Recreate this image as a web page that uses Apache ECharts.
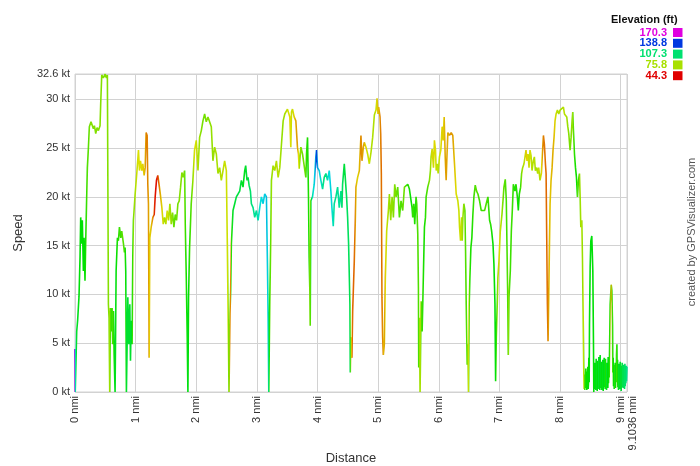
<!DOCTYPE html>
<html><head><meta charset="utf-8">
<script src="https://cdn.jsdelivr.net/npm/echarts@6/dist/echarts.min.js"></script>
<style>html,body{margin:0;padding:0;background:#fff}#c{width:700px;height:466px}</style>
</head><body><div id="c"></div>
<script>
// ---- Data: distance (nmi), speed (kt), elevation (ft) per track point, split in legs ----
const distLeg1 = [
0.000,0.002,0.004,0.022,0.028,0.044,0.066,0.083,0.094,0.110,
0.121,0.138,0.149,0.165,0.176,0.193,0.204,0.220,0.237,0.264,
0.287,0.303,0.320,0.342,0.364,0.386,0.413,0.424,0.441,0.468,
0.496,0.518,0.534,0.551,0.562,0.573,0.584,0.595,0.612,0.622,
0.634,0.645,0.661,0.678,0.700,0.716,0.733,0.755,0.771,0.799,
0.815,0.826,0.837,0.848,0.871,0.887,0.904,0.915,0.926,0.942,
0.953,0.964,0.992,1.019,1.047,1.063,1.080,1.102,1.118,1.140,
1.157,1.173,1.190,1.201,1.212,1.223,1.234,1.256,1.284,1.306,
1.322,1.344,1.366,1.388,1.411,1.433,1.455,1.477,1.499,1.521,
1.543,1.565,1.587,1.609,1.631,1.653,1.675,1.697,1.719,1.741,
1.763,1.785];
const speedLeg1 = [
4.4,3.0,0,0,6.2,7.4,9.8,13.8,17.9,15.2,
17.6,12.4,15.8,11.4,15.2,20.0,23.0,24.9,27.2,27.7,
27.8,27.0,27.3,26.5,27.1,26.8,27.3,29.6,32.5,32.2,
32.6,32.2,32.5,9.0,7.6,0,8.6,6.2,8.6,4.9,
8.3,3.8,0,12.4,15.8,15.5,16.9,15.8,16.5,15.2,
14.3,14.8,12.4,0,9.7,4.9,9.0,3.2,7.3,4.9,
13.8,17.6,20.3,22.4,24.8,22.7,23.7,22.7,23.4,22.2,
23.0,26.6,26.3,21.3,19.3,3.5,15.8,16.9,17.9,18.2,
20.0,21.7,22.2,21.2,20.1,18.9,17.2,17.9,17.2,18.6,
17.6,19.3,17.2,18.4,16.9,18.2,17.6,19.3,19.6,21.0,
22.5,22.0];
const elevLeg1 = [
160,125,118,100,100,98,96,95,95,95,
95,95,95,95,92,88,85,85,82,80,
80,80,80,80,80,80,80,80,80,80,
80,80,80,80,80,76,85,88,90,85,
90,95,100,95,92,90,88,88,85,85,
88,90,95,100,100,100,100,100,100,95,
85,80,76,72,70,70,70,68,68,66,
64,58,58,60,62,66,68,66,60,50,
46,46,52,58,64,68,72,76,74,70,
74,76,78,80,84,84,82,82,80,80,
80,80];

const distLeg2 = [
1.807,1.818,1.835,1.851,1.862,1.873,1.890,1.917,1.945,1.972,
2.000,2.028,2.055,2.083,2.110,2.138,2.165,2.193,2.220,2.248,
2.275,2.303,2.331,2.358,2.386,2.413,2.441,2.468,2.496,2.512,
2.540,2.556,2.567,2.579,2.606,2.634,2.661,2.689,2.716,2.744,
2.771,2.799,2.815,2.837,2.854,2.871,2.893,2.909,2.937,2.964,
2.992,3.019,3.047,3.074,3.102,3.129,3.157,3.174,3.185,3.196,
3.212,3.229,3.240,3.267,3.295,3.322,3.350,3.377,3.405,3.433,
3.460,3.504,3.526,3.543,3.559,3.570];
const speedLeg2 = [
22.7,17.2,11.7,5.6,0,9.7,14.8,19.3,21.7,24.8,
25.8,22.7,26.1,26.8,27.8,28.5,27.7,28.2,28.0,27.2,
23.7,25.1,24.4,22.4,23.0,21.7,22.7,23.7,22.7,15.2,
0,8.0,10.4,15.2,18.6,19.3,20.0,20.3,20.6,21.7,
21.0,22.7,23.2,21.7,22.0,21.2,20.6,19.3,18.9,17.9,
18.6,17.6,18.9,20.0,19.3,20.3,20.0,13.1,7.6,0,
9.0,15.8,21.7,23.2,22.7,23.7,22.0,23.0,25.4,27.8,
28.5,29.0,28.9,28.2,25.1,28.7];
const elevLeg2 = [
82,88,92,95,100,95,90,85,78,70,
72,75,78,80,82,82,80,80,80,78,
78,76,76,76,76,74,74,72,72,70,
85,66,58,90,100,100,102,102,102,100,
98,98,100,100,102,104,106,108,110,112,
112,115,118,120,122,122,124,122,118,100,
90,82,78,76,75,74,74,75,78,78,
76,72,70,68,70,72];

const distLeg3 = [
3.587,3.614,3.642,3.669,3.686,3.697,3.725,3.752,3.780,3.807,
3.818,3.835,3.846,3.851,3.862,3.873,3.879,3.890,3.917,3.945,
3.972,3.983,4.000,4.028,4.055,4.083,4.110,4.138,4.165,4.193,
4.220,4.237,4.259,4.275,4.303,4.331,4.358,4.386,4.402,4.413,
4.441,4.457,4.479,4.496,4.512,4.534,4.540,4.551,4.567,4.579,
4.606,4.623,4.634,4.661,4.689,4.716,4.733,4.755,4.771,4.799,
4.826,4.854,4.882,4.909,4.937,4.964,4.981,4.997,5.008,5.030,
5.041,5.052,5.063,5.074,5.085,5.102,5.118,5.140,5.168,5.185,
5.207,5.229,5.251,5.273,5.295,5.322,5.350,5.377,5.405,5.433];
const speedLeg3 = [
29.0,28.2,27.8,25.1,24.4,22.9,25.1,24.4,24.6,22.0,
24.4,26.1,26.3,20.0,13.8,10.4,6.8,19.6,20.0,21.3,
24.1,24.8,23.0,22.7,21.7,20.8,22.0,22.4,21.7,22.7,
20.6,18.9,17.0,19.3,20.0,21.0,18.9,20.6,18.9,21.3,
23.4,22.0,20.0,17.9,15.2,9.0,2.0,5.6,3.5,8.3,
13.4,17.6,21.0,22.0,22.7,26.3,23.7,25.1,25.6,25.1,
24.4,23.4,24.6,26.1,28.4,28.9,30.1,28.5,29.2,28.2,
26.5,22.4,9.7,5.6,3.8,4.9,11.7,16.5,18.6,20.3,
17.6,20.0,17.9,21.3,20.0,21.0,17.9,19.6,18.6,21.0];
const elevLeg3 = [
72,68,62,62,70,75,80,82,82,85,
90,92,92,92,85,80,78,95,115,120,
132,138,128,122,118,112,108,110,115,120,
122,118,115,112,110,112,112,110,108,105,
100,102,105,105,105,103,100,70,62,55,
56,60,65,68,65,58,62,62,65,70,
72,72,75,75,75,72,68,65,65,62,
58,56,58,60,65,62,68,72,76,78,
78,78,80,80,82,84,86,86,84,82];

const distLeg4 = [
5.460,5.488,5.515,5.543,5.559,5.570,5.587,5.603,5.625,5.636,
5.653,5.664,5.669,5.680,5.691,5.708,5.725,5.736,5.747,5.763,
5.780,5.791,5.818,5.846,5.862,5.873,5.890,5.912,5.928,5.945,
5.956,5.972,5.989,6.011,6.033,6.055,6.072,6.088,6.105,6.121,
6.132,6.149,6.176,6.204,6.231,6.259,6.287,6.314,6.331,6.342,
6.358,6.375,6.386,6.397,6.413,6.430,6.441,6.452,6.468,6.479,
6.490,6.501,6.512,6.529,6.545,6.562,6.579,6.601,6.623,6.645,
6.672,6.700,6.727,6.755,6.782,6.810,6.826,6.837,6.854,6.871,
6.893,6.909,6.926,6.937,6.948,6.964,6.975,6.992,7.014,7.041,
7.058,7.074,7.096,7.113,7.124,7.135,7.146,7.157,7.179,7.196,
7.212,7.229];
const speedLeg4 = [
21.2,21.3,20.8,20.6,18.9,17.9,19.3,17.2,20.0,19.3,
16.2,10.7,2.5,7.6,0,9.3,6.2,9.3,12.4,16.9,
17.9,20.0,21.0,21.7,22.7,24.1,24.9,23.0,25.8,24.8,
22.7,23.4,22.4,24.1,24.8,27.2,25.8,28.2,24.1,21.7,
23.7,26.6,26.3,26.6,26.3,23.4,20.3,19.6,18.6,16.9,
15.5,17.9,15.5,17.9,19.3,18.6,14.5,9.0,2.8,4.9,
0,9.0,11.7,14.8,15.8,18.2,20.0,21.2,20.6,20.3,
19.6,18.6,18.4,18.6,19.3,20.0,20.1,17.6,17.2,16.5,
15.2,13.1,9.0,1.1,5.6,9.0,11.7,13.4,16.5,18.2,
19.6,21.0,21.8,19.6,15.2,10.7,3.8,9.7,12.4,16.5,
18.6,21.3];
const elevLeg4 = [
88,90,92,95,92,88,90,92,90,88,
85,90,72,78,70,85,88,90,92,92,
90,88,85,80,78,74,68,72,68,70,
75,72,75,72,70,67,68,66,63,60,
64,64,62,61,62,66,70,72,72,72,
72,74,76,78,80,82,86,88,80,78,
72,82,90,92,92,90,88,85,85,86,
88,88,88,86,86,88,90,90,90,92,
94,95,95,96,90,82,76,68,72,78,
82,85,85,88,88,85,78,84,88,88,
88,90];

const distLeg5 = [
7.256,7.273,7.295,7.311,7.328,7.350,7.366,7.383,7.405,7.421,
7.438,7.455,7.471,7.488,7.504,7.521,7.537,7.559,7.576,7.592,
7.614,7.631,7.647,7.669,7.691,7.708,7.725,7.741,7.758,7.769,
7.780,7.791,7.802,7.813,7.824,7.835,7.851,7.868,7.884,7.901,
7.917,7.934,7.956,7.978,8.000,8.028,8.055,8.072,8.088,8.110,
8.127,8.143,8.165,8.182,8.198,8.209,8.220,8.237,8.254,8.270,
8.287,8.303,8.320,8.331,8.342,8.358,8.369,8.380,8.391,8.396,
8.402,8.407,8.413,8.419,8.424,8.430,8.435,8.441,8.446,8.452,
8.457,8.463,8.468,8.474,8.480,8.485,8.496,8.507,8.523,8.540,
8.551,8.556,8.562,8.567,8.573,8.579,8.584,8.590,8.595,8.601,
8.606,8.612,8.617,8.623,8.628,8.634,8.639,8.645,8.650,8.656,
8.661,8.667,8.672,8.678,8.683,8.689,8.694,8.700,8.705,8.711,
8.716,8.722,8.727,8.733,8.738,8.744,8.749,8.755,8.760,8.766,
8.771,8.777,8.782,8.788,8.793,8.799,8.804,8.810,8.815,8.826,
8.843,8.854,8.865,8.870,8.876,8.881,8.887,8.893,8.898,8.904,
8.909,8.915,8.920,8.926,8.931,8.937,8.942,8.948,8.953,8.959,
8.964,8.970,8.975,8.981,8.986,8.992,8.997,9.003,9.008,9.014,
9.019,9.025,9.030,9.036,9.041,9.047,9.052,9.058,9.063,9.069,
9.074,9.080,9.085,9.091,9.096,9.1036];
const speedLeg5 = [
20.6,21.3,20.0,18.6,20.3,21.0,22.4,23.0,23.4,23.2,
24.8,23.7,24.4,23.0,24.8,24.2,22.7,23.7,24.1,22.7,
23.0,22.4,23.0,21.7,22.4,24.4,26.3,25.4,23.4,22.4,
15.8,9.0,5.2,9.7,14.8,19.3,21.7,23.0,24.8,26.1,
27.8,28.5,28.9,28.5,28.9,28.7,29.2,28.5,28.7,28.2,
27.2,26.5,24.8,26.1,27.8,28.7,26.8,24.4,23.0,22.0,
20.0,21.7,22.4,20.0,16.9,17.6,13.8,8.3,2.1,0.3,
1.5,0.2,1.8,0.4,2.4,0.4,1.9,0.2,2.1,0.6,
2.6,0.3,0.8,3.5,1.0,6.9,12.8,15.5,16.0,12.4,
4.9,0.0,2.5,0.3,3.0,0.5,2.2,0.2,3.4,0.8,
2.8,0.1,3.2,1.0,2.6,0.3,3.6,0.6,2.4,0.2,
3.8,1.2,2.9,0.4,3.1,0.2,2.7,0.9,3.3,0.1,
2.3,0.5,3.5,0.8,2.1,0.3,3.4,0.6,2.6,0.2,
3.0,1.1,2.4,0.4,3.6,0.9,2.9,1.5,3.8,9.0,
11.0,10.4,6.9,2.0,3.5,0.6,2.2,0.3,2.8,0.9,
3.0,0.4,2.5,1.0,3.8,4.9,1.2,3.3,0.5,2.6,
0.2,2.9,0.7,2.4,0.3,3.1,0.6,2.2,0.1,2.7,
0.5,3.0,0.9,2.3,0.4,2.8,0.8,2.5,0.3,2.9,
0.6,2.4,0.9,2.7,1.1,2.6];
const elevLeg5 = [
92,90,92,95,92,88,80,76,74,72,
66,70,68,74,70,72,76,74,74,76,
76,74,72,76,70,62,58,58,57,56,
56,58,58,64,66,66,66,64,63,66,
68,72,74,74,76,76,74,74,74,76,
78,80,82,80,78,78,84,90,92,94,
85,88,80,82,72,76,78,78,70,80,
85,90,92,92,90,92,95,92,92,94,
95,95,95,96,96,96,96,96,96,95,
95,100,98,96,95,98,96,100,95,98,
96,100,95,98,96,100,92,98,96,100,
92,98,95,98,96,100,95,98,95,100,
96,98,92,98,95,100,92,98,95,100,
92,98,95,98,90,96,92,95,90,82,
62,80,88,92,92,96,92,96,90,96,
90,96,92,98,88,88,96,92,98,94,
100,96,100,98,102,100,100,100,102,100,
102,100,104,102,104,104,106,104,106,104,
106,106,108,106,110,110];

// Elevation colour-scale legend values (ft), top to bottom
const elevLegend = [170.3, 138.8, 107.3, 75.8, 44.3];
const ELEV_MIN = 44.3, ELEV_MAX = 170.3;
const DIST_MAX = 9.1036, SPEED_MAX = 32.6;

// ---- Build ----
const distNmi = [].concat(distLeg1, distLeg2, distLeg3, distLeg4, distLeg5);
const speedKt = [].concat(speedLeg1, speedLeg2, speedLeg3, speedLeg4, speedLeg5);
const elevFt  = [].concat(elevLeg1, elevLeg2, elevLeg3, elevLeg4, elevLeg5);

const FONT = '"Liberation Sans", Arial, Helvetica, sans-serif';

function elevColor(e) {
  let t = (e - ELEV_MIN) / (ELEV_MAX - ELEV_MIN);
  t = Math.max(0, Math.min(1, t));
  const h = t * 300, l = 0.44, s = 1;
  const c = (1 - Math.abs(2 * l - 1)) * s, hp = h / 60, x = c * (1 - Math.abs(hp % 2 - 1));
  let r = 0, g = 0, b = 0;
  if (hp < 1) { r = c; g = x; } else if (hp < 2) { r = x; g = c; }
  else if (hp < 3) { g = c; b = x; } else if (hp < 4) { g = x; b = c; }
  else if (hp < 5) { r = x; b = c; } else { r = c; b = x; }
  const m = l - c / 2;
  return 'rgb(' + Math.round((r + m) * 255) + ',' + Math.round((g + m) * 255) + ',' + Math.round((b + m) * 255) + ')';
}

const n = Math.min(distNmi.length, speedKt.length, elevFt.length);
const seriesData = [];
for (let i = 0; i < n; i++) seriesData.push([distNmi[i], speedKt[i]]);

const chart = echarts.init(document.getElementById('c'), null, { renderer: 'canvas', width: 700, height: 466 });

const legendGraphics = [{
  type: 'text', left: 611, top: 14,
  style: { text: 'Elevation (ft)', font: 'bold 11px ' + FONT, fill: '#111' }
}];
elevLegend.forEach((v, i) => {
  const cy = 32.5 + i * 10.8;
  const col = elevColor(v);
  legendGraphics.push({
    type: 'text', x: 667, y: cy,
    style: { text: v.toFixed(1), font: 'bold 11px ' + FONT, fill: col, align: 'right', verticalAlign: 'middle' }
  });
  legendGraphics.push({
    type: 'rect', shape: { x: 673, y: cy - 4.5, width: 9.5, height: 9 },
    style: { fill: col }
  });
});
legendGraphics.push({
  type: 'text', x: 692, y: 232, rotation: Math.PI / 2,
  style: { text: 'created by GPSVisualizer.com', font: '11px ' + FONT, fill: '#555', align: 'center', verticalAlign: 'middle' }
});

const gridLineColor = '#d2d2d2';
const labelStyle = { fontFamily: FONT, fontSize: 11, color: '#333' };
chart.setOption({
  animation: false,
  backgroundColor: '#ffffff',
  grid: { left: 75, right: 73, top: 74, bottom: 74, show: true, borderColor: gridLineColor, borderWidth: 1,
          containLabel: false, outerBoundsMode: 'none' },
  xAxis: [{
    type: 'value', min: 0, max: DIST_MAX, interval: 1, position: 'bottom',
    name: 'Distance', nameLocation: 'middle', nameGap: 60, nameMoveOverlap: false,
    nameTextStyle: { fontFamily: FONT, fontSize: 13, color: '#333' },
    axisLine: { show: false }, axisTick: { show: false },
    splitLine: { show: true, lineStyle: { color: gridLineColor, width: 1 } },
    axisLabel: Object.assign({ rotate: 90, margin: 4, showMinLabel: true, showMaxLabel: false,
                 formatter: v => v + ' nmi' }, labelStyle)
  }, {
    // second axis over the same scale, only to label the track's end distance
    type: 'value', min: 0, max: DIST_MAX, interval: DIST_MAX, position: 'bottom', offset: 0,
    axisLine: { show: false }, axisTick: { show: false }, splitLine: { show: false },
    axisLabel: Object.assign({ rotate: 90, margin: 4, showMinLabel: false, showMaxLabel: true,
                 verticalAlign: 'top',
                 formatter: v => (v > 9 ? DIST_MAX + ' nmi' : '') }, labelStyle)
  }],
  yAxis: {
    type: 'value', min: 0, max: SPEED_MAX, interval: 5,
    name: 'Speed', nameLocation: 'middle', nameGap: 50, nameMoveOverlap: false,
    nameTextStyle: { fontFamily: FONT, fontSize: 13, color: '#333' },
    axisLine: { show: false }, axisTick: { show: false },
    splitLine: { show: true, lineStyle: { color: gridLineColor, width: 1 } },
    axisLabel: Object.assign({ margin: 5, showMinLabel: true, showMaxLabel: true,
                 formatter: v => v + ' kt' }, labelStyle)
  },
  series: [{
    type: 'line', xAxisIndex: 0, data: seriesData, symbol: 'none', showSymbol: false,
    lineStyle: { width: 1.6, color: '#7c0' }, clip: true
  }],
  graphic: legendGraphics
});

// Colour the track by elevation: horizontal gradient with one stop per point
const p0 = chart.convertToPixel({ xAxisIndex: 0 }, 0);
const p1 = chart.convertToPixel({ xAxisIndex: 0 }, DIST_MAX);
const stops = [];
for (let i = 0; i < n; i++) stops.push({ offset: Math.max(0, Math.min(1, distNmi[i] / DIST_MAX)), color: elevColor(elevFt[i]) });
chart.setOption({
  series: [{ lineStyle: { color: new echarts.graphic.LinearGradient(p0, 0, p1, 0, stops, true) } }]
});
</script>
</body></html>
